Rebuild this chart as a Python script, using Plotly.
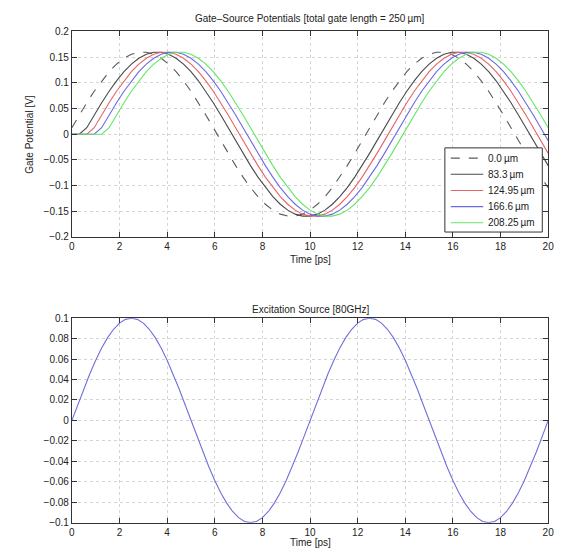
import numpy as np
import plotly.graph_objects as go

# ---------------- data ----------------
time_top = list(np.linspace(0, 20, 65))      # 0.3125 ps sampling
time_bottom = list(np.linspace(0, 20, 81))   # 0.25 ps sampling

legend_labels = ["0.0\u2009\u00b5m", "83.3\u2009\u00b5m", "124.95\u2009\u00b5m",
                 "166.6\u2009\u00b5m", "208.25\u2009\u00b5m"]

gate_0_0 = [0.0126, 0.0374, 0.0612, 0.0836, 0.1039, 0.1217, 0.1364, 0.1478, 0.1556, 0.1595,
            0.1595, 0.1556, 0.1478, 0.1364, 0.1217, 0.1039, 0.0836, 0.0612, 0.0374, 0.0126,
            -0.0126, -0.0374, -0.0612, -0.0836, -0.1039, -0.1217, -0.1364, -0.1478, -0.1556, -0.1595,
            -0.1595, -0.1556, -0.1478, -0.1364, -0.1217, -0.1039, -0.0836, -0.0612, -0.0374, -0.0126,
            0.0126, 0.0374, 0.0612, 0.0836, 0.1039, 0.1217, 0.1364, 0.1478, 0.1556, 0.1595,
            0.1595, 0.1556, 0.1478, 0.1364, 0.1217, 0.1039, 0.0836, 0.0612, 0.0374, 0.0126,
            -0.0126, -0.0374, -0.0612, -0.0836, -0.1039]

gate_83_3 = [0.0, 0.0,
             0.0126, 0.0374, 0.0612, 0.0836, 0.1039, 0.1217, 0.1364, 0.1478, 0.1556, 0.1595,
             0.1595, 0.1556, 0.1478, 0.1364, 0.1217, 0.1039, 0.0836, 0.0612, 0.0374, 0.0126,
             -0.0126, -0.0374, -0.0612, -0.0836, -0.1039, -0.1217, -0.1364, -0.1478, -0.1556, -0.1595,
             -0.1595, -0.1556, -0.1478, -0.1364, -0.1217, -0.1039, -0.0836, -0.0612, -0.0374, -0.0126,
             0.0126, 0.0374, 0.0612, 0.0836, 0.1039, 0.1217, 0.1364, 0.1478, 0.1556, 0.1595,
             0.1595, 0.1556, 0.1478, 0.1364, 0.1217, 0.1039, 0.0836, 0.0612, 0.0374, 0.0126,
             -0.0126, -0.0374, -0.0612]

gate_124_95 = [0.0, 0.0, 0.0,
               0.0126, 0.0374, 0.0612, 0.0836, 0.1039, 0.1217, 0.1364, 0.1478, 0.1556, 0.1595,
               0.1595, 0.1556, 0.1478, 0.1364, 0.1217, 0.1039, 0.0836, 0.0612, 0.0374, 0.0126,
               -0.0126, -0.0374, -0.0612, -0.0836, -0.1039, -0.1217, -0.1364, -0.1478, -0.1556, -0.1595,
               -0.1595, -0.1556, -0.1478, -0.1364, -0.1217, -0.1039, -0.0836, -0.0612, -0.0374, -0.0126,
               0.0126, 0.0374, 0.0612, 0.0836, 0.1039, 0.1217, 0.1364, 0.1478, 0.1556, 0.1595,
               0.1595, 0.1556, 0.1478, 0.1364, 0.1217, 0.1039, 0.0836, 0.0612, 0.0374, 0.0126,
               -0.0126, -0.0374]

gate_166_6 = [0.0, 0.0, 0.0, 0.0,
              0.0126, 0.0374, 0.0612, 0.0836, 0.1039, 0.1217, 0.1364, 0.1478, 0.1556, 0.1595,
              0.1595, 0.1556, 0.1478, 0.1364, 0.1217, 0.1039, 0.0836, 0.0612, 0.0374, 0.0126,
              -0.0126, -0.0374, -0.0612, -0.0836, -0.1039, -0.1217, -0.1364, -0.1478, -0.1556, -0.1595,
              -0.1595, -0.1556, -0.1478, -0.1364, -0.1217, -0.1039, -0.0836, -0.0612, -0.0374, -0.0126,
              0.0126, 0.0374, 0.0612, 0.0836, 0.1039, 0.1217, 0.1364, 0.1478, 0.1556, 0.1595,
              0.1595, 0.1556, 0.1478, 0.1364, 0.1217, 0.1039, 0.0836, 0.0612, 0.0374, 0.0126,
              -0.0126]

gate_208_25 = [0.0, 0.0, 0.0, 0.0, 0.0,
               0.0126, 0.0374, 0.0612, 0.0836, 0.1039, 0.1217, 0.1364, 0.1478, 0.1556, 0.1595,
               0.1595, 0.1556, 0.1478, 0.1364, 0.1217, 0.1039, 0.0836, 0.0612, 0.0374, 0.0126,
               -0.0126, -0.0374, -0.0612, -0.0836, -0.1039, -0.1217, -0.1364, -0.1478, -0.1556, -0.1595,
               -0.1595, -0.1556, -0.1478, -0.1364, -0.1217, -0.1039, -0.0836, -0.0612, -0.0374, -0.0126,
               0.0126, 0.0374, 0.0612, 0.0836, 0.1039, 0.1217, 0.1364, 0.1478, 0.1556, 0.1595,
               0.1595, 0.1556, 0.1478, 0.1364, 0.1217, 0.1039, 0.0836, 0.0612, 0.0374, 0.0126]

excitation = [0.0, 0.0156, 0.0309, 0.0454, 0.0588, 0.0707, 0.0809, 0.0891, 0.0951, 0.0988,
              0.1, 0.0988, 0.0951, 0.0891, 0.0809, 0.0707, 0.0588, 0.0454, 0.0309, 0.0156,
              0.0, -0.0156, -0.0309, -0.0454, -0.0588, -0.0707, -0.0809, -0.0891, -0.0951, -0.0988,
              -0.1, -0.0988, -0.0951, -0.0891, -0.0809, -0.0707, -0.0588, -0.0454, -0.0309, -0.0156,
              0.0, 0.0156, 0.0309, 0.0454, 0.0588, 0.0707, 0.0809, 0.0891, 0.0951, 0.0988,
              0.1, 0.0988, 0.0951, 0.0891, 0.0809, 0.0707, 0.0588, 0.0454, 0.0309, 0.0156,
              0.0, -0.0156, -0.0309, -0.0454, -0.0588, -0.0707, -0.0809, -0.0891, -0.0951, -0.0988,
              -0.1, -0.0988, -0.0951, -0.0891, -0.0809, -0.0707, -0.0588, -0.0454, -0.0309, -0.0156,
              0.0]

x_ticks = [0, 2, 4, 6, 8, 10, 12, 14, 16, 18, 20]
top_y_ticks = [-0.2, -0.15, -0.1, -0.05, 0, 0.05, 0.1, 0.15, 0.2]
bottom_y_ticks = [-0.1, -0.08, -0.06, -0.04, -0.02, 0, 0.02, 0.04, 0.06, 0.08, 0.1]

# ---------------- figure ----------------
W, H = 566, 558
FONT = "Liberation Sans, Arial, Helvetica, sans-serif"
TXT = "#222222"

fig = go.Figure()

series = [gate_0_0, gate_83_3, gate_124_95, gate_166_6, gate_208_25]
colors = ["#5a5a5a", "#4a4a4a", "#e86464", "#6a6ae6", "#64e664"]
dashes = ["dash", "solid", "solid", "solid", "solid"]
for lab, ys, c, d in zip(legend_labels, series, colors, dashes):
    fig.add_trace(go.Scatter(x=time_top, y=ys, mode="lines", name=lab, showlegend=False,
                             line=dict(color=c, width=1.1, dash=d),
                             xaxis="x", yaxis="y"))

fig.add_trace(go.Scatter(x=time_bottom, y=excitation, mode="lines", showlegend=False,
                         line=dict(color="#6f6fdc", width=1.1), xaxis="x2", yaxis="y2"))

def px_x(p):
    return p / W

def px_y(p):
    return 1 - p / H

x_dom = [px_x(70), px_x(554)]
axis_common = dict(showline=True, linecolor="#333333", linewidth=1, mirror="ticks",
                   ticks="inside", ticklen=5, tickcolor="#333333",
                   showgrid=True, gridcolor="#d4d4d4", griddash="dot", gridwidth=1,
                   zeroline=False, tickfont=dict(family=FONT, size=10, color=TXT))

fig.update_layout(
    width=W, height=H,
    margin=dict(l=0, r=0, t=0, b=0),
    paper_bgcolor="white", plot_bgcolor="white",
    font=dict(family=FONT, size=10, color=TXT),
    xaxis=dict(domain=x_dom, range=[0, 20], tickvals=x_ticks, anchor="y", **axis_common),
    yaxis=dict(domain=[px_y(236), px_y(26)], range=[-0.2, 0.2], tickvals=top_y_ticks,
               anchor="x", **axis_common),
    xaxis2=dict(domain=x_dom, range=[0, 20], tickvals=x_ticks, anchor="y2", **axis_common),
    yaxis2=dict(domain=[px_y(528), px_y(319)], range=[-0.1, 0.1], tickvals=bottom_y_ticks,
                anchor="x2", **axis_common),
    showlegend=False,
)

# ---- legend box (MATLAB style, compact rows) ----
box_l, box_r, box_t, box_b = 449, 548, 145, 231
fig.add_shape(type="rect", xref="paper", yref="paper",
              x0=px_x(box_l), x1=px_x(box_r), y0=px_y(box_b), y1=px_y(box_t),
              fillcolor="white", line=dict(color="#333333", width=1), layer="above")
row_y = [155.5, 172, 188.5, 205, 221.5]
for lab, c, d, ry in zip(legend_labels, colors, dashes, row_y):
    fig.add_shape(type="line", xref="paper", yref="paper",
                  x0=px_x(455), x1=px_x(488), y0=px_y(ry), y1=px_y(ry),
                  line=dict(color=c, width=1.1, dash=d), layer="above")
    fig.add_annotation(xref="paper", yref="paper", showarrow=False,
                       x=px_x(491), y=px_y(ry), xanchor="left", yanchor="middle",
                       text=lab, font=dict(family=FONT, size=10, color=TXT))

cx = (70 + 554) / 2 / W
annots = [
    dict(text="Gate\u2013Source Potentials [total gate length = 250\u2009\u00b5m]",
         x=cx, y=px_y(13)),
    dict(text="Time [ps]", x=cx, y=px_y(259)),
    dict(text="Gate Potential [V]", x=px_x(27), y=px_y(131), textangle=-90),
    dict(text="Excitation Source [80GHz]", x=cx, y=px_y(310)),
    dict(text="Time [ps]", x=cx, y=px_y(548)),
]
for a in annots:
    fig.add_annotation(xref="paper", yref="paper", showarrow=False,
                       xanchor="center", yanchor="middle",
                       font=dict(family=FONT, size=10, color=TXT), **a)

post = ("document.body.style.margin='0';"
        "document.body.style.overflow='hidden';"
        "document.documentElement.style.overflow='hidden';")
fig.write_html("out.html", post_script=post, config={"displayModeBar": False})
